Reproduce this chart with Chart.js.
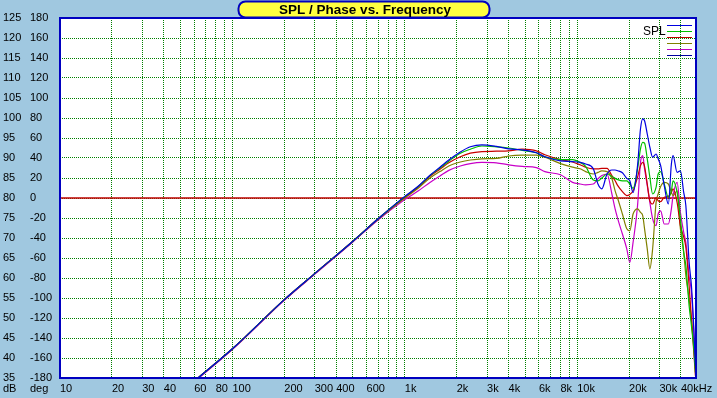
<!DOCTYPE html>
<html>
<head>
<meta charset="utf-8">
<title>SPL / Phase vs. Frequency</title>
<script src="https://cdn.jsdelivr.net/npm/chart.js@4.4.1/dist/chart.umd.min.js"></script>
<style>
  html, body { margin: 0; padding: 0; background: #a0c8e0; }
  #wrap { width: 717px; height: 398px; }
</style>
</head>
<body>
<div id="wrap"><canvas id="spl" width="717" height="398"></canvas></div>
<script>
// Frequenze (Hz) comuni a tutte le curve
const freq = [60, 100, 200, 300, 500, 700,
  1000, 1200, 1400, 1600, 1800, 2100, 2400, 2800, 3400, 4000, 4800, 5800, 6500, 8000,
  9400, 10400, 11200, 12400, 13200, 13900, 14900, 15900, 16600, 17200,
  18300, 19400, 20200, 21100, 22400, 23300, 24000, 24600, 25500, 26400,
  27400, 28700, 29500, 30500, 32000, 33800, 35200, 36000, 38000, 39700,
  41500, 42700, 44600, 46000, 47500, 48500];

// SPL (dB), una serie per colore
const splBlue = [34.2, 42.3, 54.6, 61.1, 69.2, 74.8,
  80.4, 83.0, 85.7, 87.7, 89.5, 91.5, 92.8, 93.3, 92.9, 92.3, 92.0, 91.3, 90.3, 89.3,
  89.1, 88.9, 88.5, 87.3, 83.5, 82.3, 86.0, 87.0, 87.0, 86.8,
  86.3, 84.9, 84.3, 81.4, 88.1, 97.3, 99.8, 99.3, 96.0, 92.7,
  90.2, 91.0, 89.8, 88.1, 83.1, 78.5, 88.5, 90.6, 86.4, 86.8,
  81.4, 78.1, 64.0, 58.1, 47.3, 38.1];
const splGreen = [34.2, 42.3, 54.6, 61.1, 69.2, 74.8,
  80.3, 82.9, 85.6, 87.5, 89.2, 91.2, 92.2, 93.0, 92.8, 92.5, 91.9, 91.3, 90.3, 89.6,
  89.6, 88.9, 87.9, 84.5, 84.3, 85.0, 86.0, 85.4, 84.9, 84.6,
  84.3, 84.3, 83.5, 82.4, 87.3, 92.3, 93.9, 93.7, 89.8, 85.2,
  81.0, 82.7, 86.0, 86.6, 83.5, 80.2, 81.8, 84.3, 81.4, 74.8,
  66.4, 63.1, 53.1, 48.1, 42.3, 36.4];
const splRed = [34.2, 42.3, 54.6, 61.1, 69.2, 74.8,
  80.2, 82.8, 85.4, 87.2, 88.8, 90.3, 91.2, 91.6, 91.7, 91.8, 92.2, 91.8, 90.8, 89.6,
  89.0, 88.3, 87.7, 87.3, 87.3, 87.4, 87.4, 85.6, 84.3, 83.1,
  81.6, 80.6, 80.9, 81.8, 85.2, 88.1, 88.9, 87.9, 83.5, 79.3,
  78.5, 80.1, 79.3, 79.1, 80.2, 80.4, 81.4, 82.3, 78.9, 73.1,
  70.2, 67.7, 58.1, 49.8, 41.4, 35.6];
const splOlive = [34.2, 42.3, 54.6, 61.1, 69.2, 74.7,
  80.0, 82.5, 85.0, 86.6, 88.0, 89.0, 89.5, 89.8, 89.9, 90.5, 90.7, 90.7, 90.2, 88.6,
  87.7, 87.3, 86.6, 86.0, 86.4, 86.8, 86.6, 84.8, 81.8, 79.8,
  76.0, 72.3, 71.8, 76.0, 77.3, 76.4, 75.6, 72.3, 67.3, 62.3,
  67.3, 78.9, 81.0, 82.9, 83.9, 83.5, 81.4, 80.6, 81.8, 72.3,
  66.4, 60.6, 54.8, 49.8, 43.1, 37.3];
const splMagenta = [34.0, 42.1, 54.4, 60.9, 69.0, 74.5,
  79.6, 81.8, 83.9, 85.5, 86.9, 88.0, 88.6, 88.9, 88.8, 88.3, 87.9, 87.6, 86.6, 85.8,
  83.9, 83.5, 83.3, 83.5, 84.8, 85.6, 86.0, 81.0, 77.3, 74.8,
  71.0, 67.3, 63.9, 68.9, 78.1, 88.9, 90.6, 87.3, 83.1, 78.9,
  74.8, 73.1, 76.0, 76.8, 73.5, 73.5, 77.3, 80.6, 83.9, 76.4,
  71.4, 68.9, 60.6, 56.4, 46.4, 38.1];

// Etichette degli assi
const dbTicks = [35, 40, 45, 50, 55, 60, 65, 70, 75, 80, 85, 90, 95, 100, 105, 110, 115, 120, 125];
const degTicks = [-180, -160, -140, -120, -100, -80, -60, -40, -20, 0, 20, 40, 60, 80, 100, 120, 140, 160, 180];
const xTickValues = [10, 20, 30, 40, 60, 80, 100, 200, 300, 400, 600, 1000, 2000, 3000, 4000, 6000, 8000, 10000, 20000, 30000, 40000];
const xTickText = ['10', '20', '30', '40', '60', '80', '100', '200', '300', '400', '600', '1k', '2k', '3k', '4k', '6k', '8k', '10k', '20k', '30k', '40kHz'];

// Linee della griglia: 1..9 per ogni decade fino a 40k
const xGrid = [];
for (let d = 10; d <= 10000; d *= 10) {
  for (let m = 1; m <= 9; m++) {
    if (d * m <= 40000) xGrid.push(d * m);
  }
}

const legendColors = ['#0000e0', '#00c000', '#c00000', '#808000', '#c000c0', '#0000a0'];
const FONT = '"Liberation Sans", Arial, sans-serif';

const series = [
  { values: splBlue, color: '#0000e0' },
  { values: splGreen, color: '#00c000' },
  { values: splRed, color: '#c80000' },
  { values: splOlive, color: '#808000' },
  { values: splMagenta, color: '#c800c8' }
];

const datasets = series.map(s => ({
  data: freq.map((f, i) => ({ x: f, y: s.values[i] })),
  borderColor: s.color,
  borderWidth: 1.2,
  pointRadius: 0,
  cubicInterpolationMode: 'monotone',
  yAxisID: 'y',
  order: 0
}));

// Linea 0 gradi della fase
datasets.push({
  data: [{ x: 10, y: 0 }, { x: 48900, y: 0 }],
  borderColor: '#c00000',
  borderWidth: 1.5,
  pointRadius: 0,
  yAxisID: 'y2',
  order: 1
});

// Sfondo, cornice, titolo e legenda
const frame = {
  id: 'frame',
  beforeDraw(chart) {
    const { ctx, chartArea: a } = chart;
    ctx.save();
    ctx.fillStyle = '#a0c8e0';
    ctx.fillRect(0, 0, chart.width, chart.height);
    ctx.fillStyle = '#ffffff';
    ctx.fillRect(a.left, a.top, a.right - a.left, a.bottom - a.top);
    ctx.restore();
  },
  afterDraw(chart) {
    const { ctx, chartArea: a } = chart;
    ctx.save();
    ctx.strokeStyle = '#0000c0';
    ctx.lineWidth = 2;
    ctx.strokeRect(a.left, a.top, a.right - a.left, a.bottom - a.top);

    // unità sotto le colonne degli assi y
    ctx.fillStyle = '#000';
    ctx.font = '11px ' + FONT;
    ctx.textBaseline = 'middle';
    ctx.textAlign = 'left';
    ctx.fillText('dB', chart.scales.y.left, a.bottom + 11);
    ctx.fillText('deg', chart.scales.y2.left, a.bottom + 11);

    // titolo nel riquadro giallo
    const tx = 238.5, ty = 1.5, tw = 251, th = 16;
    ctx.beginPath();
    ctx.roundRect(tx, ty, tw, th, 7);
    ctx.fillStyle = '#ffff40';
    ctx.fill();
    ctx.lineWidth = 2;
    ctx.strokeStyle = '#0000c0';
    ctx.stroke();
    ctx.fillStyle = '#000';
    ctx.font = 'bold 13.5px ' + FONT;
    ctx.textAlign = 'center';
    ctx.fillText('SPL / Phase vs. Frequency', 365, 10.5);

    // legenda
    ctx.textAlign = 'left';
    ctx.font = '12px ' + FONT;
    ctx.fillText('SPL', 643, 31.5);
    ctx.lineWidth = 1;
    legendColors.forEach((c, i) => {
      ctx.strokeStyle = c;
      ctx.beginPath();
      ctx.moveTo(667, 25.5 + i * 6);
      ctx.lineTo(692, 25.5 + i * 6);
      ctx.stroke();
    });
    ctx.restore();
  }
};

const tickFont = { family: FONT, size: 11 };

new Chart(document.getElementById('spl'), {
  type: 'line',
  data: { datasets },
  options: {
    responsive: false,
    animation: false,
    layout: { autoPadding: false, padding: { left: 3, top: 18, right: 21, bottom: 0 } },
    plugins: { legend: { display: false }, tooltip: { enabled: false } },
    scales: {
      x: {
        type: 'logarithmic',
        min: 10,
        max: 48900,
        afterBuildTicks: s => { s.ticks = xGrid.map(v => ({ value: v })); },
        afterFit: s => { s.height = 20; s.paddingLeft = 0; s.paddingRight = 0; },
        ticks: {
          autoSkip: false, maxRotation: 0, minRotation: 0, align: 'start', padding: 4,
          color: '#000', font: tickFont,
          callback: v => {
            const i = xTickValues.indexOf(v);
            return i >= 0 ? xTickText[i] : '';
          }
        },
        grid: { color: '#008000', lineWidth: 1, drawTicks: false },
        border: { display: false, dash: [1, 1] }
      },
      y: {
        position: 'left',
        weight: 2,
        min: 35,
        max: 125,
        afterBuildTicks: s => { s.ticks = dbTicks.map(v => ({ value: v })); },
        afterFit: s => { s.width = 27; s.paddingTop = 0; s.paddingBottom = 0; },
        ticks: { crossAlign: 'far', padding: 0, color: '#000', font: tickFont },
        grid: { color: '#008000', lineWidth: 1, drawTicks: false },
        border: { display: false, dash: [1, 1] }
      },
      y2: {
        position: 'left',
        weight: 1,
        min: -180,
        max: 180,
        afterBuildTicks: s => { s.ticks = degTicks.map(v => ({ value: v })); },
        afterFit: s => { s.width = 30; s.paddingTop = 0; s.paddingBottom = 0; },
        ticks: { crossAlign: 'far', padding: 0, color: '#000', font: tickFont },
        grid: { display: false, drawTicks: false },
        border: { display: false }
      }
    }
  },
  plugins: [frame]
});
</script>
</body>
</html>
